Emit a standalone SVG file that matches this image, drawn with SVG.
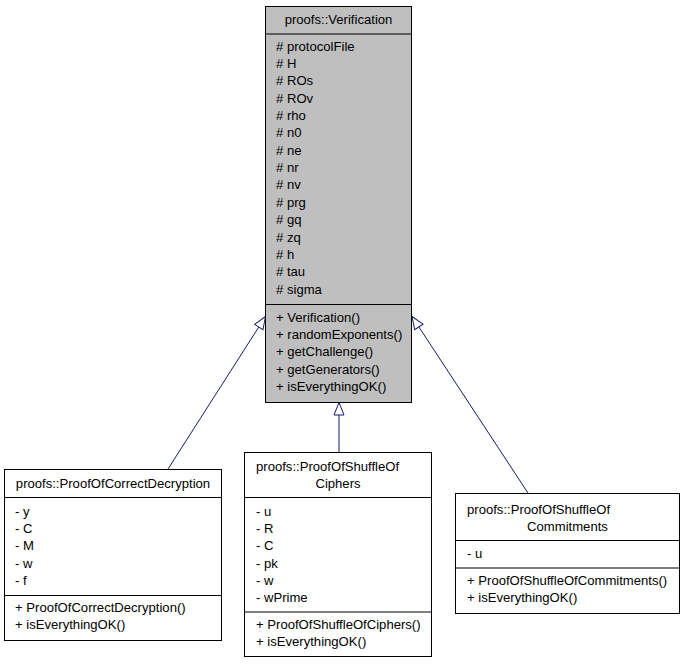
<svg xmlns="http://www.w3.org/2000/svg" width="685" height="664" viewBox="0 0 685 664">
<style>
text{font-family:"Liberation Sans",Arial,sans-serif;font-size:13.1px;fill:#000}
.box{fill:#fff;stroke:#000;stroke-width:1}
.grey{fill:#bfbfbf;stroke:#000;stroke-width:1}
.sep{stroke:#000;stroke-width:1}
.edge{stroke:#191970;stroke-width:1;fill:none}
.c{text-anchor:middle}
</style>
<defs>
<marker id="tri" markerUnits="userSpaceOnUse" markerWidth="16" markerHeight="12" refX="13" refY="5.5" orient="auto" overflow="visible">
<path d="M0.5,0.5 L13,5.5 L0.5,10.5 z" fill="#fff" stroke="#191970" stroke-width="1"/>
</marker>
</defs>
<rect width="685" height="664" fill="#fff"/>
<g id="connectors">
<line class="edge" x1="168" y1="469" x2="265.5" y2="316.5" marker-end="url(#tri)"/>
<line class="edge" x1="339" y1="452" x2="339" y2="402.5" marker-end="url(#tri)"/>
<line class="edge" x1="528" y1="493" x2="412" y2="316.5" marker-end="url(#tri)"/>
</g>
<g id="verification">
<rect class="grey" x="265.5" y="6.5" width="146" height="396"/>
<line class="sep" x1="265.5" y1="34" x2="411.5" y2="34"/>
<line class="sep" x1="265.5" y1="304.5" x2="411.5" y2="304.5"/>
<text class="c" x="338.5" y="23.5">proofs::Verification</text>
<text x="276" y="50.5"># protocolFile</text>
<text x="276" y="67.9"># H</text>
<text x="276" y="85.2"># ROs</text>
<text x="276" y="102.6"># ROv</text>
<text x="276" y="119.9"># rho</text>
<text x="276" y="137.3"># n0</text>
<text x="276" y="154.7"># ne</text>
<text x="276" y="172"># nr</text>
<text x="276" y="189.4"># nv</text>
<text x="276" y="206.7"># prg</text>
<text x="276" y="224.1"># gq</text>
<text x="276" y="241.5"># zq</text>
<text x="276" y="258.8"># h</text>
<text x="276" y="276.2"># tau</text>
<text x="276" y="293.5"># sigma</text>
<text x="276" y="321.5">+ Verification()</text>
<text x="276" y="338.9">+ randomExponents()</text>
<text x="276" y="356.2">+ getChallenge()</text>
<text x="276" y="373.6">+ getGenerators()</text>
<text x="276" y="390.9">+ isEverythingOK()</text>
</g>
<g id="correctDecryption">
<rect class="box" x="4.5" y="469.5" width="217" height="171"/>
<line class="sep" x1="4.5" y1="497.5" x2="221.5" y2="497.5"/>
<line class="sep" x1="4.5" y1="595.5" x2="221.5" y2="595.5"/>
<text class="c" x="113" y="487.5">proofs::ProofOfCorrectDecryption</text>
<text x="15" y="515.5">- y</text>
<text x="15" y="532.9">- C</text>
<text x="15" y="550.2">- M</text>
<text x="15" y="567.6">- w</text>
<text x="15" y="584.9">- f</text>
<text x="15" y="611.5">+ ProofOfCorrectDecryption()</text>
<text x="15" y="628.9">+ isEverythingOK()</text>
</g>
<g id="shuffleCiphers">
<rect class="box" x="244.5" y="452.5" width="187" height="204"/>
<line class="sep" x1="244.5" y1="497.5" x2="431.5" y2="497.5"/>
<line class="sep" x1="244.5" y1="612" x2="431.5" y2="612"/>
<text x="256" y="470.5">proofs::ProofOfShuffleOf</text>
<text class="c" x="338" y="487.9">Ciphers</text>
<text x="256" y="515.5">- u</text>
<text x="256" y="532.9">- R</text>
<text x="256" y="550.2">- C</text>
<text x="256" y="567.6">- pk</text>
<text x="256" y="584.9">- w</text>
<text x="256" y="602.3">- wPrime</text>
<text x="256" y="628.5">+ ProofOfShuffleOfCiphers()</text>
<text x="256" y="645.9">+ isEverythingOK()</text>
</g>
<g id="shuffleCommitments">
<rect class="box" x="455.5" y="493.5" width="224" height="120"/>
<line class="sep" x1="455.5" y1="540.5" x2="679.5" y2="540.5"/>
<line class="sep" x1="455.5" y1="568" x2="679.5" y2="568"/>
<text x="467" y="513.5">proofs::ProofOfShuffleOf</text>
<text class="c" x="567.5" y="530.9">Commitments</text>
<text x="467" y="557.5">- u</text>
<text x="467" y="584.5">+ ProofOfShuffleOfCommitments()</text>
<text x="467" y="601.9">+ isEverythingOK()</text>
</g>
</svg>
